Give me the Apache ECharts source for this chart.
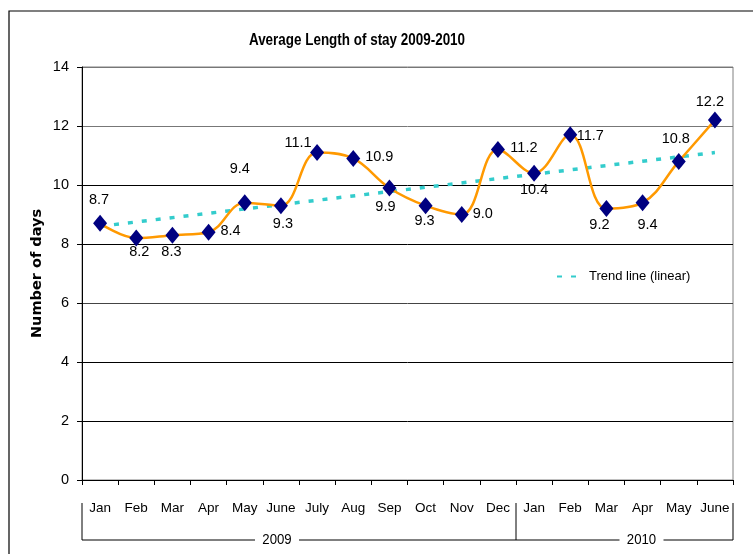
<!DOCTYPE html>
<html><head><meta charset="utf-8">
<script src="https://cdn.jsdelivr.net/npm/echarts@6/dist/echarts.min.js"></script>
<style>html,body{margin:0;padding:0;background:#fff}#c{width:753px;height:554px}</style>
</head><body><div id="c"></div>
<script>
// ---- data ----
const months = ['Jan','Feb','Mar','Apr','May','June','July','Aug','Sep','Oct','Nov','Dec','Jan','Feb','Mar','Apr','May','June'];
const years = ['2009','2010'];
const yearSpans = [12, 6];
const avgStay = [8.7,8.2,8.3,8.4,9.4,9.3,11.1,10.9,9.9,9.3,9.0,11.2,10.4,11.7,9.2,9.4,10.8,12.2];
const trendEnds = [8.6, 11.1];
const yTicks = [0,2,4,6,8,10,12,14];
const titleText = 'Average Length of stay 2009-2010';
const yName = 'Number of days';
const trendName = 'Trend line (linear)';

// ---- styles ----
const NARROW = "'Liberation Sans Narrow','Arial Narrow','Liberation Sans',sans-serif";
const labelOffsets = [[-1,-23],[3,14],[-1,17],[22,-1],[-5,-34],[2,18],[-19,-10],[26,-1],[-4,19],[-1,15],[21,-1],[26,-2],[0,17],[20,1],[-7,16],[5,22],[-3,-22],[-5,-18]];
const yearTextShift = [-22, 17];

const chart = echarts.init(document.getElementById('c'), null, {renderer:'canvas'});
const option = {
  backgroundColor: '#fff',
  animation: false,
  legend: {
    data: [trendName], left: 551, top: 265, itemWidth: 27, itemHeight: 10, itemGap: 4,
    itemStyle: {color: 'rgba(0,0,0,0)', borderWidth: 0},
    textStyle: {fontFamily: NARROW, fontSize: 13, color: '#000'}
  },
  grid: {left: 82, right: 20, top: 67, bottom: 74, show: true, borderColor: '#808080', borderWidth: 1, containLabel: false},
  xAxis: {
    type: 'category', data: months, boundaryGap: true,
    axisLine: {lineStyle: {color: '#000', width: 1}},
    axisTick: {show: true, length: 5, lineStyle: {color: '#000'}},
    axisLabel: {fontFamily: NARROW, fontSize: 13.5, color: '#000', margin: 21, interval: 0},
    splitLine: {show: false}
  },
  yAxis: {
    type: 'value', min: yTicks[0], max: yTicks[yTicks.length-1], interval: yTicks[1]-yTicks[0],
    name: yName, nameLocation: 'middle', nameRotate: 90, nameGap: 37, nameMoveOverlap: false,
    nameTextStyle: {fontFamily: "'DejaVu Sans',sans-serif", fontWeight: 'bold', fontSize: 14.5, color: '#000'},
    axisLine: {show: true, lineStyle: {color: '#000', width: 1}},
    axisTick: {show: true, length: 5, lineStyle: {color: '#000'}},
    axisLabel: {fontFamily: NARROW, fontSize: 14.5, color: '#000', margin: 13},
    splitLine: {show: true, lineStyle: {color: ['#000','#000','#000','#444','#000','#000','#777','#777'], width: 1}}
  },
  series: [
    {
      name: trendName, type: 'line', symbol: 'none', z: 3,
      data: [[0, trendEnds[0]], [months.length-1, trendEnds[1]]],
      lineStyle: {color: '#33CCCC', width: 3.5, type: [5, 9], cap: 'butt'},
      itemStyle: {color: '#33CCCC'}
    },
    {
      name: 'Average', type: 'line', smooth: 0.38, z: 4,
      symbol: 'diamond', symbolSize: [14, 17],
      lineStyle: {color: '#FF9900', width: 2.5},
      itemStyle: {color: '#000080'},
      data: avgStay.map((v, i) => ({
        value: v,
        label: {show: true, position: 'inside', offset: labelOffsets[i],
          formatter: p => Number(p.value).toFixed(1),
          fontFamily: NARROW, fontSize: 14.5, color: '#000'}
      }))
    }
  ]
};
chart.setOption(option);

// year brackets (multi-level category axis)
const c0 = chart.convertToPixel({xAxisIndex: 0}, 0);
const c1 = chart.convertToPixel({xAxisIndex: 0}, 1);
const band = c1 - c0;
const yTop = 503, yBot = 540;
const g = [];
g.push({type: 'rect', shape: {x: 9, y: 11, width: 900, height: 700}, style: {fill: 'none', stroke: '#000', lineWidth: 1.2}, silent: true});
g.push({type: 'text', x: 357, y: 41, scaleX: 0.84, style: {text: titleText, fontFamily: NARROW, fontWeight: 'bold', fontSize: 16, fill: '#000', align: 'center', verticalAlign: 'middle'}});
let start = 0;
const bounds = [c0 - band/2];
yearSpans.forEach((n, k) => {
  const x0 = c0 - band/2 + start*band;
  const x1 = x0 + n*band;
  bounds.push(x1);
  const tx = (x0 + x1)/2 + yearTextShift[k];
  g.push({type: 'line', shape: {x1: x0, y1: yBot, x2: tx - 22, y2: yBot}, style: {stroke: '#000', lineWidth: 1}});
  g.push({type: 'line', shape: {x1: tx + 22, y1: yBot, x2: x1, y2: yBot}, style: {stroke: '#000', lineWidth: 1}});
  g.push({type: 'text', x: tx, y: yBot, scaleX: 0.88, style: {text: years[k], fontFamily: NARROW, fontSize: 15, fill: '#000', align: 'center', verticalAlign: 'middle'}});
  start += n;
});
bounds.forEach(b => g.push({type: 'line', shape: {x1: b, y1: yTop, x2: b, y2: yBot}, style: {stroke: '#000', lineWidth: 1}}));
chart.setOption({graphic: g});
</script>
</body></html>
